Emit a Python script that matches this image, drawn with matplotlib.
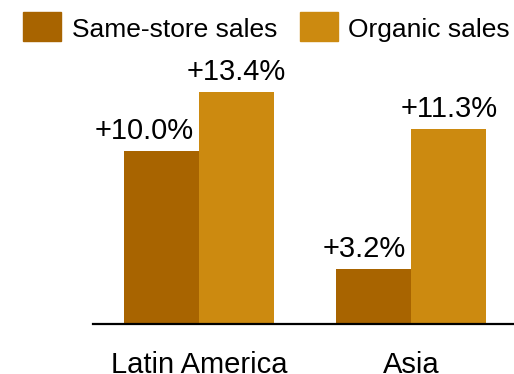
import matplotlib
matplotlib.use("Agg")
import matplotlib.pyplot as plt
import matplotlib.transforms as mtransforms
from matplotlib.patches import Rectangle
import numpy as np

plt.rcParams['font.family'] = ['Liberation Sans', 'DejaVu Sans']

regions = ["Latin America", "Asia"]
series_names = ["Same-store sales", "Organic sales"]
same_store = [10.0, 3.2]
organic = [13.4, 11.3]
colors = ["#A86400", "#CC8A10"]

W, H = 514, 374
fig = plt.figure(figsize=(W / 100, H / 100), dpi=100)

# axes placement in pixel terms
left_px, right_px, base_px, top_px = 93, 517, 324, 60
ax = fig.add_axes([left_px / W, (H - base_px) / H,
                   (right_px - left_px) / W, (base_px - top_px) / H])

x = np.arange(len(regions))
width = 0.356
b1 = ax.bar(x - width / 2, same_store, width, color=colors[0], label=series_names[0])
b2 = ax.bar(x + width / 2, organic, width, color=colors[1], label=series_names[1])

ax.set_xlim(-0.5, 1.5)
ax.set_ylim(0, (base_px - top_px) / 17.3)

for s in ["top", "right", "left"]:
    ax.spines[s].set_visible(False)
ax.spines["bottom"].set_linewidth(1.6)
ax.spines["bottom"].set_color("black")
ax.set_yticks([])
ax.set_xticks(x)
ax.set_xticklabels([])
ax.tick_params(axis="x", length=0)

# category names sit on a baseline at the bottom edge of the figure
blend = mtransforms.blended_transform_factory(ax.transData, fig.transFigure)
for xi, name in zip(x, regions):
    ax.text(xi, 1.0 / H, name, transform=blend, ha="center", va="baseline",
            fontsize=21, clip_on=False)

for rect, v in zip(b1, same_store):
    ax.annotate(f"+{v:.1f}%", (rect.get_x() + rect.get_width(), v),
                xytext=(-5, 12), textcoords="offset pixels",
                ha="right", va="baseline", fontsize=21)
for rect, v in zip(b2, organic):
    ax.annotate(f"+{v:.1f}%", (rect.get_x() + rect.get_width() / 2, v),
                xytext=(0, 12), textcoords="offset pixels",
                ha="center", va="baseline", fontsize=21)

# legend: colour swatches with labels, laid out in figure pixels
legend_items = [(23, 72), (300, 348)]
for (sx, tx), name, c in zip(legend_items, series_names, colors):
    fig.patches.append(Rectangle((sx / W, 1 - 41 / H), 38 / W, 29 / H,
                                 transform=fig.transFigure, color=c))
    fig.text(tx / W, 1 - 37 / H, name, fontsize=19, ha="left", va="baseline")

fig.savefig("out.png", dpi=100)
